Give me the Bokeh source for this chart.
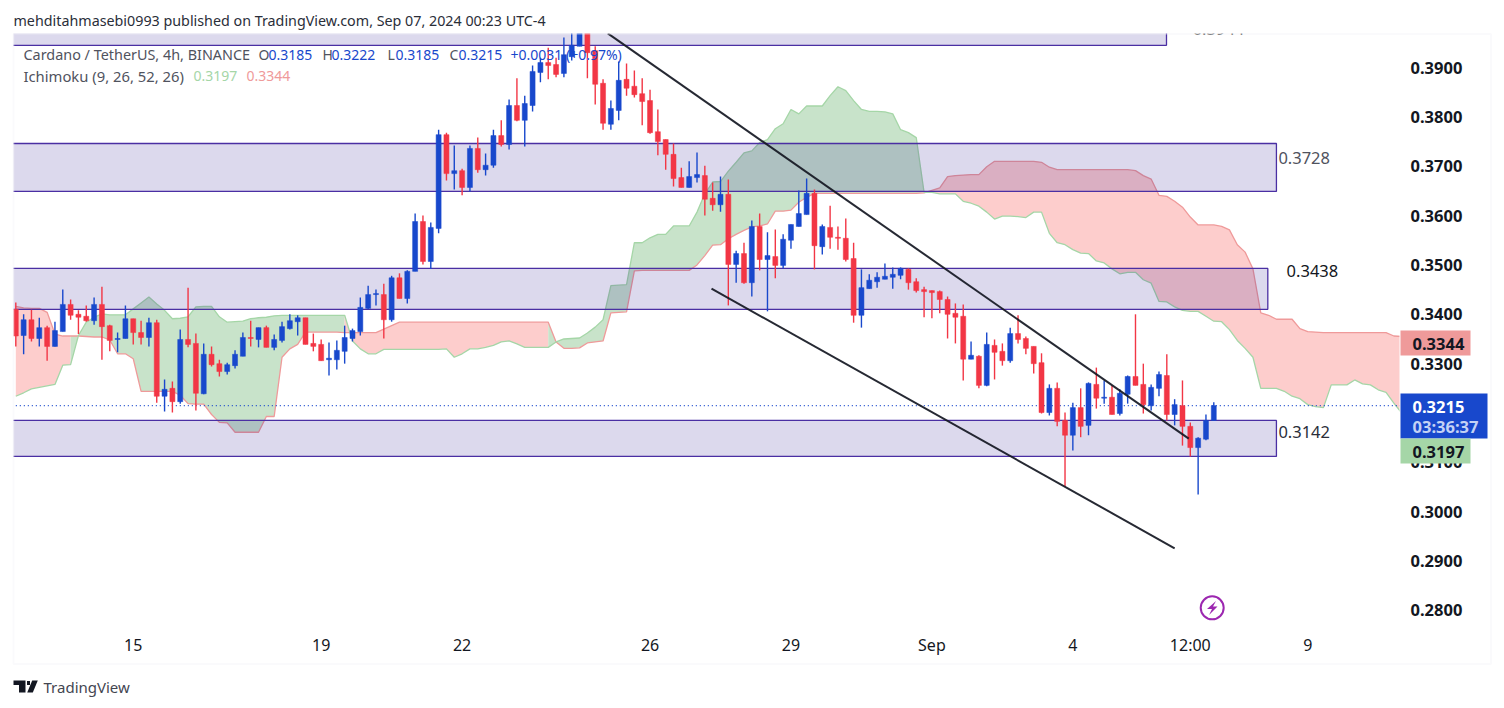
from bokeh.plotting import figure
from bokeh.embed import file_html
from bokeh.resources import INLINE
from bokeh.core.properties import value
from bokeh.models import (Label, BoxAnnotation, PolyAnnotation, FixedTicker,
                          NumeralTickFormatter, Range1d)

# ---- candles (4h bars, Cardano / TetherUS) ----
opens = [.3410,.3357,.3389,.3351,.3373,.3335,.3365,.3420,.3400,.3396,
 .3387,.3420,.3377,.3349,.3351,.3391,.3363,.3353,.3383,.3234,
 .3250,.3223,.3349,.3341,.3239,.3319,.3300,.3284,.3296,.3315,
 .3353,.3349,.3373,.3333,.3347,.3371,.3385,.3393,.3341,.3339,
 .3308,.3308,.3325,.3351,.3365,.3412,.3440,.3440,.3389,.3474,
 .3432,.3487,.3588,.3507,.3574,.3764,.3685,.3691,.3657,.3736,
 .3693,.3702,.3762,.3744,.3823,.3793,.3823,.3890,.3910,.3906,
 .3888,.3922,.3943,.3990,.3934,.3868,.3785,.3813,.3876,.3862,
 .3847,.3833,.3770,.3754,.3724,.3677,.3657,.3677,.3681,.3635,
 .3622,.3643,.3501,.3523,.3464,.3578,.3511,.3517,.3499,.3550,
 .3578,.3602,.3645,.3537,.3576,.3556,.3554,.3513,.3398,.3452,
 .3466,.3471,.3475,.3479,.3491,.3466,.3450,.3448,.3446,.3430,
 .3402,.3396,.3309,.3315,.3256,.3337,.3325,.3306,.3361,.3351,
 .3335,.3302,.3201,.3250,.3185,.3155,.3211,.3175,.3258,.3230,
 .3232,.3199,.3238,.3274,.3258,.3215,.3250,.3276,.3197,.3215,
 .3173,.3130,.3147,.3185]
highs = [.3424,.3400,.3409,.3393,.3377,.3385,.3450,.3430,.3408,.3418,
 .3434,.3456,.3379,.3363,.3418,.3391,.3387,.3393,.3389,.3268,
 .3264,.3369,.3454,.3361,.3341,.3335,.3308,.3302,.3327,.3363,
 .3387,.3373,.3377,.3359,.3385,.3400,.3398,.3393,.3361,.3349,
 .3343,.3347,.3377,.3371,.3434,.3458,.3450,.3462,.3478,.3483,
 .3489,.3604,.3600,.3586,.3774,.3768,.3742,.3695,.3742,.3758,
 .3726,.3774,.3793,.3835,.3878,.3843,.3904,.3920,.3940,.3920,
 .3961,.3985,.4010,.4005,.3943,.3876,.3833,.3912,.3908,.3894,
 .3878,.3855,.3815,.3754,.3746,.3697,.3710,.3728,.3701,.3667,
 .3679,.3673,.3529,.3545,.3590,.3604,.3566,.3572,.3562,.3582,
 .3651,.3675,.3653,.3582,.3620,.3578,.3594,.3545,.3491,.3481,
 .3485,.3503,.3495,.3495,.3493,.3473,.3456,.3448,.3448,.3436,
 .3422,.3420,.3345,.3317,.3363,.3349,.3341,.3373,.3398,.3355,
 .3335,.3321,.3258,.3262,.3201,.3221,.3250,.3262,.3292,.3266,
 .3256,.3248,.3276,.3400,.3300,.3258,.3284,.3319,.3228,.3266,
 .3181,.3151,.3197,.3222]
lows = [.3335,.3319,.3345,.3335,.3306,.3335,.3365,.3389,.3360,.3385,
 .3379,.3308,.3325,.3323,.3351,.3339,.3339,.3335,.3221,.3203,
 .3201,.3219,.3333,.3205,.3238,.3294,.3274,.3278,.3290,.3315,
 .3335,.3333,.3333,.3327,.3343,.3369,.3357,.3339,.3325,.3306,
 .3276,.3288,.3300,.3345,.3357,.3410,.3418,.3351,.3385,.3432,
 .3422,.3487,.3501,.3492,.3564,.3671,.3653,.3641,.3649,.3687,
 .3681,.3697,.3740,.3734,.3791,.3740,.3811,.3870,.3876,.3880,
 .3880,.3914,.3943,.3878,.3825,.3774,.3774,.3793,.3843,.3839,
 .3783,.3766,.3722,.3693,.3659,.3657,.3657,.3667,.3600,.3610,
 .3608,.3418,.3464,.3462,.3436,.3489,.3406,.3473,.3493,.3533,
 .3578,.3602,.3491,.3521,.3533,.3531,.3507,.3383,.3373,.3452,
 .3454,.3471,.3452,.3471,.3450,.3444,.3394,.3392,.3402,.3351,
 .3341,.3266,.3309,.3250,.3254,.3268,.3296,.3302,.3341,.3319,
 .3280,.3199,.3195,.3173,.3051,.3124,.3151,.3155,.3209,.3219,
 .3197,.3195,.3219,.3256,.3199,.3205,.3234,.3185,.3175,.3134,
 .3112,.3035,.3145,.3185]
closes = [.3356,.3389,.3351,.3373,.3335,.3367,.3420,.3398,.3394,.3387,
 .3420,.3375,.3347,.3351,.3391,.3363,.3353,.3383,.3234,.3248,
 .3223,.3349,.3339,.3240,.3319,.3298,.3284,.3298,.3319,.3353,
 .3351,.3373,.3333,.3349,.3375,.3387,.3393,.3339,.3335,.3306,
 .3311,.3327,.3353,.3367,.3414,.3440,.3442,.3389,.3474,.3432,
 .3487,.3588,.3507,.3576,.3764,.3685,.3691,.3657,.3736,.3693,
 .3702,.3762,.3744,.3823,.3793,.3827,.3892,.3910,.3904,.3886,
 .3926,.3945,.3985,.3930,.3866,.3787,.3817,.3874,.3858,.3845,
 .3831,.3768,.3750,.3724,.3675,.3657,.3679,.3683,.3633,.3622,
 .3643,.3501,.3523,.3464,.3578,.3511,.3519,.3499,.3552,.3582,
 .3604,.3645,.3539,.3578,.3556,.3554,.3511,.3398,.3454,.3469,
 .3475,.3477,.3481,.3493,.3464,.3448,.3446,.3444,.3430,.3400,
 .3394,.3309,.3317,.3256,.3339,.3323,.3306,.3361,.3349,.3331,
 .3300,.3201,.3250,.3183,.3155,.3211,.3173,.3260,.3230,.3232,
 .3197,.3240,.3274,.3256,.3217,.3252,.3278,.3197,.3217,.3173,
 .3130,.3149,.3185,.3215]

# ---- Ichimoku cloud (leading spans, one value per bar, shifted 26 bars ahead) ----
span_a = [.3234,.3241,.3249,.3252,.3255,.3258,.3297,.3298,.3357,.3384,
 .3394,.3401,.3399,.3399,.3399,.3411,.3423,.3435,.3421,.3408,
 .3391,.3392,.3395,.3415,.3416,.3416,.3395,.3384,.3385,.3386,
 .3391,.3393,.3394,.3397,.3398,.3398,.3398,.3398,.3398,.3398,
 .3398,.3398,.3398,.3346,.3330,.3320,.3320,.3329,.3329,.3329,
 .3329,.3329,.3329,.3329,.3329,.3330,.3313,.3320,.3330,.3330,
 .3333,.3337,.3344,.3346,.3340,.3333,.3333,.3333,.3333,.3344,
 .3350,.3351,.3352,.3362,.3374,.3389,.3458,.3459,.3460,.3545,
 .3545,.3555,.3562,.3562,.3579,.3579,.3579,.3607,.3644,.3668,
 .3669,.3690,.3708,.3727,.3731,.3748,.3754,.3776,.3786,.3815,
 .3806,.3822,.3822,.3822,.3843,.3861,.3853,.3833,.3815,.3811,
 .3811,.3810,.3806,.3774,.3768,.3758,.3647,.3647,.3644,.3644,
 .3644,.3629,.3625,.3619,.3607,.3593,.3599,.3599,.3598,.3596,
 .3607,.3607,.3564,.3545,.3541,.3531,.3524,.3523,.3508,.3504,
 .3492,.3482,.3485,.3485,.3470,.3463,.3426,.3425,.3415,.3408,
 .3406,.3406,.3396,.3386,.3385,.3369,.3347,.3331,.3313,.3250,
 .3250,.3250,.3244,.3234,.3229,.3217,.3213,.3211,.3257,.3257,
 .3257,.3267,.3259,.3257,.3247,.3242,.3220,.3200]
span_b = [.3416,.3413,.3412,.3412,.3404,.3360,.3356,.3356,.3356,.3355,
 .3354,.3354,.3348,.3320,.3320,.3310,.3244,.3244,.3244,.3244,
 .3244,.3236,.3219,.3218,.3218,.3197,.3181,.3180,.3161,.3161,
 .3161,.3161,.3193,.3193,.3313,.3330,.3339,.3364,.3364,.3364,
 .3364,.3364,.3363,.3363,.3363,.3363,.3363,.3370,.3377,.3384,
 .3384,.3384,.3384,.3384,.3384,.3384,.3384,.3384,.3384,.3384,
 .3384,.3384,.3384,.3384,.3384,.3384,.3384,.3384,.3384,.3344,
 .3331,.3331,.3332,.3342,.3344,.3346,.3403,.3404,.3405,.3488,
 .3489,.3489,.3489,.3489,.3489,.3489,.3489,.3500,.3519,.3540,
 .3541,.3553,.3562,.3570,.3577,.3579,.3583,.3609,.3609,.3611,
 .3627,.3637,.3645,.3645,.3645,.3645,.3645,.3645,.3645,.3645,
 .3645,.3645,.3645,.3645,.3645,.3645,.3646,.3651,.3656,.3679,
 .3681,.3682,.3683,.3683,.3699,.3710,.3710,.3710,.3710,.3710,
 .3710,.3708,.3698,.3693,.3693,.3693,.3693,.3693,.3693,.3693,
 .3693,.3693,.3693,.3691,.3681,.3674,.3641,.3639,.3629,.3617,
 .3597,.3581,.3581,.3581,.3578,.3571,.3541,.3526,.3492,.3403,
 .3398,.3390,.3390,.3390,.3371,.3365,.3364,.3363,.3363,.3363,
 .3363,.3363,.3363,.3363,.3363,.3363,.3356,.3355]

# ---- drawn zones: (bottom, top, right bar) ----
zone_bottom = [.3945, .3649, .3410, .3112]
zone_top = [.3985, .3746, .3493, .3185]
zone_left = [-1] * 4
zone_right = [146.96, 161.0, 159.9, 161.0]
zone_names = ["0.3944", "0.3728", "0.3438", "0.3142"]
zone_name_x = [150.3, 161.25, 162.3, 161.25]
zone_name_y = [.3977, .3717, .3487, .3161]
zone_name_col = ["#555555", "#50535e", "#131722", "#2a2e39"]

# ---- trend lines ----
line_upper_x, line_upper_y = [75.6, 149.8], [.3969, .3148]
line_lower_x, line_lower_y = [88.85, 148.0], [.3452, .2926]

# ---- axes ----
price_ticks = [.28, .29, .30, .31, .32, .33, .34, .35, .36, .37, .38, .39]
time_ticks = [15, 39, 57, 81, 99, 117, 135, 150, 165]
time_labels = ["15", "19", "22", "26", "29", "Sep", "4", "12:00", "9"]
last_price = .3215

BLUE, RED = "#1848cc", "#f23645"
GREEN_FILL, RED_FILL = "#c8e3ca", "#fdcdcc"
GREEN_LINE, RED_LINE = "#a5d6a7", "#ef9a9a"
ZONE = "#311b92"
FONT = "Noto Sans"

# page pixel -> data, for decoration placed by page position
def dx(px): return (px - 15.3) / 7.83
def dy(py): return .39 - (py - 67) / 4936

W, H = 1496, 700
p = figure(width=W, height=H, output_backend="svg", toolbar_location=None,
           y_axis_location="right",
           x_range=Range1d(dx(0), dx(W)), y_range=Range1d(dy(H), dy(0)),
           min_border_left=0, min_border_right=0, min_border_top=0, min_border_bottom=0,
           background_fill_color="white", border_fill_color="white", outline_line_color=None)
p.grid.visible = False

for ax in (p.xaxis[0], p.yaxis[0]):
    ax.axis_line_color = None
    ax.major_tick_line_color = None
    ax.minor_tick_line_color = None
    ax.major_label_text_font = FONT
    ax.major_label_text_color = "#131722"
p.yaxis[0].fixed_location = dx(1399)
p.yaxis[0].ticker = FixedTicker(ticks=price_ticks)
p.yaxis[0].formatter = NumeralTickFormatter(format="0.0000")
p.yaxis[0].major_label_text_font_size = "16.5px"
p.yaxis[0].major_label_text_font_style = "bold"
p.yaxis[0].major_label_standoff = 5
p.xaxis[0].fixed_location = dy(622)
p.xaxis[0].ticker = FixedTicker(ticks=time_ticks)
p.xaxis[0].major_label_overrides = dict(zip(time_ticks, time_labels))
p.xaxis[0].major_label_text_font_size = "16px"
p.xaxis[0].major_label_standoff = 5

# cloud: runs of equal sign; a segment takes the colour of its end bar
n = len(span_a)
run_start = 0
for i in range(1, n + 1):
    if i == n or (span_a[i] >= span_b[i]) != (span_a[run_start + 1] >= span_b[run_start + 1]):
        idx = list(range(run_start, i))
        up = span_a[i - 1] >= span_b[i - 1]
        p.patch(idx + idx[::-1],
                [span_a[j] for j in idx] + [span_b[j] for j in idx[::-1]],
                fill_color=GREEN_FILL if up else RED_FILL, line_color=None)
        run_start = i - 1
xs = list(range(n))
p.line(xs, span_b, line_color=RED_LINE, line_width=1.3)
p.line(xs, span_a, line_color=GREEN_LINE, line_width=1.3)

# zones
p.quad(left=zone_left, right=zone_right, bottom=zone_bottom, top=zone_top,
       fill_color=ZONE, fill_alpha=.17, line_color="#4a2fa3", line_width=1.3)
p.text(zone_name_x, zone_name_y, text=zone_names, text_color=zone_name_col,
       text_font=value(FONT), text_font_size="16.5px", text_baseline="middle")

# last price
p.segment([0], [last_price], [178], [last_price], line_color=BLUE, line_dash="1 3", line_width=1.2)

# candles
bars = list(range(len(opens)))
cols = [BLUE if c >= o else RED for o, c in zip(opens, closes)]
p.segment(bars, lows, bars, highs, line_color=cols, line_width=1.4)
p.vbar(bars, width=.64, bottom=[min(o, c) for o, c in zip(opens, closes)],
       top=[max(o, c) for o, c in zip(opens, closes)], fill_color=cols, line_color=cols, line_width=.5)

# trend lines
for lx, ly in ((line_upper_x, line_upper_y), (line_lower_x, line_lower_y)):
    p.line(lx, ly, line_color="#131722", line_width=2, line_alpha=.92)

# alert icon
p.scatter([dx(1211.7)], [dy(607.3)], marker="circle", size=23, fill_color=None,
          line_color="#9c27b0", line_width=2)
p.patch([dx(v) for v in (1215.5, 1206.5, 1211.5, 1208.5, 1217, 1212.5)],
        [dy(v) for v in (600.5, 608.5, 608.5, 614.5, 606, 606)],
        fill_color="#9c27b0", line_color=None)

# white masks: the chart pane ends here, as the frame's clip would
p.quad(left=[dx(-30), dx(-30), dx(1399)], right=[dx(W + 30), dx(13), dx(W + 30)],
       bottom=[dy(33), dy(H + 30), dy(H + 30)], top=[dy(-30), dy(-30), dy(-30)],
       fill_color="white", line_color=None)

# page-position helpers for the furniture
def box(l, t, r, b, **kw):
    p.add_layout(BoxAnnotation(left=l, right=r, top=t, bottom=b,
                               left_units="canvas", right_units="canvas",
                               top_units="canvas", bottom_units="canvas", **kw))

def lab(x, y, text, color="#131722", size="14px", weight="normal", align="left"):
    p.add_layout(Label(x=x, y=y, x_units="canvas", y_units="canvas", text=text,
                       text_color=color, text_font=FONT, text_font_size=size,
                       text_font_style=weight, text_align=align, text_baseline="middle"))

# outer frame
box(13, 33.5, 1490.5, 663.5, fill_color=None, fill_alpha=0, line_color="#eeeef6", line_width=2)

# price tags on the axis
box(1400, 330, 1470, 355, fill_color=RED_LINE, fill_alpha=1, line_color=None)
box(1400, 393, 1487, 438, fill_color=BLUE, fill_alpha=1, line_color=None)
box(1400, 438, 1470, 463, fill_color=GREEN_LINE, fill_alpha=1, line_color=None)
lab(1412, 343, "0.3344", size="16.5px", weight="bold")
lab(1412, 406, "0.3215", color="white", size="16.5px", weight="bold")
lab(1412, 426, "03:36:37", color="#c3d2f5", size="16.5px", weight="bold")
lab(1412, 451, "0.3197", size="16.5px", weight="bold")

# header and legend
lab(13, 20, "mehditahmasebi0993 published on TradingView.com, Sep 07, 2024 00:23 UTC-4",
    color="#2a2e39", size="14.3px")
GRAY = "#50535e"
lab(23, 54, "Cardano / TetherUS, 4h, BINANCE", color=GRAY, size="14.4px")
for x, t, c in [(258, "O", GRAY), (268, "0.3185", BLUE), (322, "H", GRAY), (331, "0.3222", BLUE),
                (387, "L", GRAY), (395, "0.3185", BLUE), (449, "C", GRAY), (458, "0.3215", BLUE),
                (510, "+0.0031 (+0.97%)", BLUE)]:
    lab(x, 54, t, color=c)
lab(23, 75, "Ichimoku (9, 26, 52, 26)", color=GRAY, size="14.8px")
lab(193, 75, "0.3197", color=GREEN_LINE)
lab(246, 75, "0.3344", color=RED_LINE)

# footer logo and name
for pts in ([(13, 680), (25, 680), (25, 692), (18.5, 692), (18.5, 684.5), (13, 684.5)],
            [(26.5, 680.5), (29.5, 680.5), (29.5, 684.5), (26.5, 684.5)],
            [(31.7, 680), (37.3, 680), (32.3, 692), (26.7, 692)]):
    p.add_layout(PolyAnnotation(xs=[q[0] for q in pts], ys=[q[1] for q in pts],
                                xs_units="canvas", ys_units="canvas",
                                fill_color="#131722", fill_alpha=1, line_color=None))
lab(43, 686, "TradingView", color="#434651", size="15px")

open("out.html", "w").write(file_html(p, INLINE))
